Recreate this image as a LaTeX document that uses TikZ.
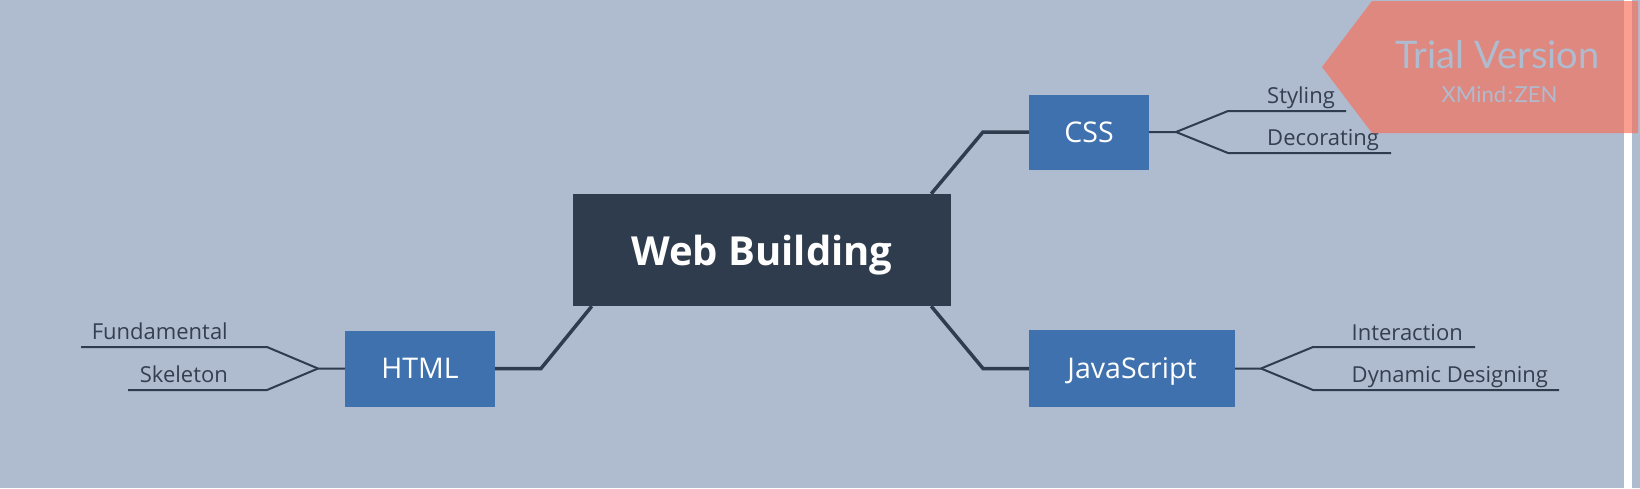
\documentclass[tikz,border=0pt]{standalone}
\usepackage{fontspec}
\setmainfont{Open Sans}
\newfontfamily\latofont{Lato}
\definecolor{bgc}{RGB}{175,187,207}
\definecolor{dark}{RGB}{47,60,77}
\definecolor{topic}{RGB}{63,113,175}
\definecolor{bannerc}{RGB}{249,110,87}
\definecolor{leaftext}{RGB}{52,64,80}
\begin{document}
\begin{tikzpicture}[x=1pt,y=-1pt,
  centralbox/.style={rectangle, fill=dark, minimum width=378pt, minimum height=112pt, inner sep=0pt, text depth=0pt, text=white, font=\fontsize{40}{48}\selectfont\bfseries},
  topicbox/.style={rectangle, fill=topic, inner sep=0pt, text depth=0pt, text=white, font=\fontsize{28.5}{34}\selectfont},
  leaflabel/.style={inner sep=0pt, text=leaftext, font=\fontsize{22}{26}\selectfont},
  mainline/.style={draw=dark, line width=3.5pt},
  branchline/.style={draw=dark, line width=2pt},
  wm/.style={inner sep=0pt, text=bgc}]
\useasboundingbox (0,0) rectangle (1640,488);
\fill[bgc] (0,0) rectangle (1640,488);
\fill[white] (1624,0) rectangle (1632,488);

% nodes
\node[centralbox] (wb) at (762,250) {Web Building};
\node[topicbox, minimum width=120pt, minimum height=75pt] (css) at (1089,132) {CSS};
\node[topicbox, minimum width=150pt, minimum height=76pt] (html) at (420,368.5) {HTML};
\node[topicbox, minimum width=206pt, minimum height=77pt] (js) at (1132,368.5) {JavaScript};

% main connectors
\coordinate (cssel) at (983,132);
\coordinate (htmlel) at (541,368.5);
\coordinate (jsel) at (983,368.5);
\draw[mainline] ([xshift=-20pt]wb.north east) -- (cssel) -- (css.west);
\draw[mainline] ([xshift=19pt]wb.south west) -- (htmlel) -- (html.east);
\draw[mainline] ([xshift=-20pt]wb.south east) -- (jsel) -- (js.west);

% CSS leaves
\coordinate (cf) at (1176,132);
\coordinate (c1) at (1228,111);
\coordinate (c1e) at (1346,111);
\coordinate (c2) at (1228,153);
\coordinate (c2e) at (1391,153);
\draw[branchline] (css.east) -- (cf) -- (c1) -- (c1e);
\draw[branchline] (cf) -- (c2) -- (c2e);
\node[leaflabel, anchor=base west] (sty) at (1267,103) {Styling};
\node[leaflabel, anchor=base west] (dec) at (1267,145) {Decorating};

% HTML leaves
\coordinate (hf) at (318,368.5);
\coordinate (h1) at (267,347);
\coordinate (h1e) at (81,347);
\coordinate (h2) at (267,390);
\coordinate (h2e) at (128,390);
\draw[branchline] (html.west) -- (hf) -- (h1) -- (h1e);
\draw[branchline] (hf) -- (h2) -- (h2e);
\node[leaflabel, anchor=base east] (fun) at (228,339) {Fundamental};
\node[leaflabel, anchor=base east] (ske) at (228,382) {Skeleton};

% JS leaves
\coordinate (jf) at (1261,368.5);
\coordinate (j1) at (1313,347);
\coordinate (j1e) at (1475,347);
\coordinate (j2) at (1313,390);
\coordinate (j2e) at (1559,390);
\draw[branchline] (js.east) -- (jf) -- (j1) -- (j1e);
\draw[branchline] (jf) -- (j2) -- (j2e);
\node[leaflabel, anchor=base west] (int) at (1351.5,340) {Interaction};
\node[leaflabel, anchor=base west] (dyn) at (1351.5,382) {Dynamic Designing};

% trial banner
\fill[bannerc, fill opacity=0.66] (1322,67) -- (1372,1) -- (1638,1) -- (1638,133) -- (1372,133) -- cycle;
\node[wm, anchor=base, font=\latofont\fontsize{38}{43}\selectfont] (tv) at (1497.5,68) {Trial Version};
\node[wm, anchor=base, font=\latofont\fontsize{22}{26}\selectfont] (xz) at (1499.5,102) {XMind{\kern1.5pt}:{\kern1.5pt}ZEN};
\end{tikzpicture}
\end{document}
